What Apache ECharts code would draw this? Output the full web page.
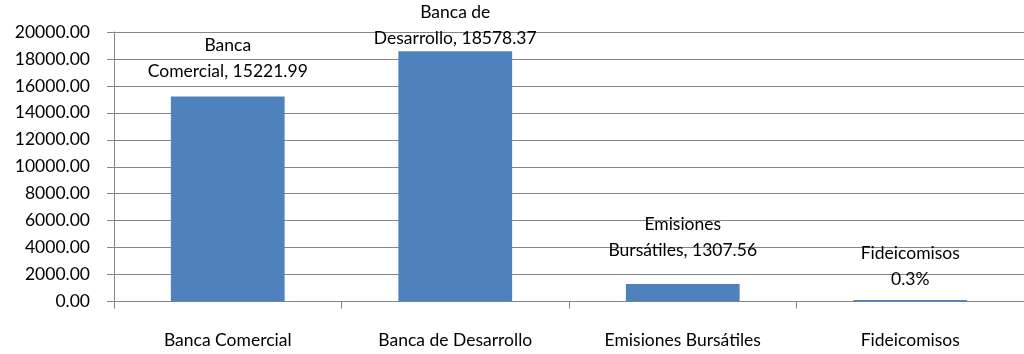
<!DOCTYPE html>
<html>
<head>
<meta charset="utf-8">
<script src="https://cdn.jsdelivr.net/npm/echarts@6/dist/echarts.min.js"></script>
<style>
  html, body { margin: 0; padding: 0; background: #fff; }
  #chart { width: 1024px; height: 354px; }
</style>
</head>
<body>
<div id="chart"></div>
<script>
// Financing sources by channel
const categories = ['Banca Comercial', 'Banca de Desarrollo', 'Emisiones Bursátiles', 'Fideicomisos'];
const amounts = [15221.99, 18578.37, 1307.56, 105.3];
const barLabels = ['Banca\nComercial, 15221.99', 'Banca de\nDesarrollo, 18578.37', 'Emisiones\nBursátiles, 1307.56', 'Fideicomisos\n0.3%'];
const labelGaps = [12, 0, 21, 8];
const yMin = 0, yMax = 20000, yStep = 2000;

const chart = echarts.init(document.getElementById('chart'), null, { renderer: 'canvas' });
const font = 'Lato, "Open Sans", sans-serif';

chart.setOption({
  animation: false,
  grid: { left: 114, top: 32, width: 916, bottom: 52.5, containLabel: false },
  xAxis: {
    type: 'category',
    data: categories,
    axisLine: { lineStyle: { color: '#868686', width: 1 } },
    axisTick: { show: true, length: 7, lineStyle: { color: '#868686' } },
    axisLabel: { color: '#000', fontFamily: font, fontSize: 17.5, margin: 30, interval: 0 },
    splitLine: { show: false }
  },
  yAxis: {
    type: 'value',
    min: yMin, max: yMax, interval: yStep,
    axisLine: { show: true, lineStyle: { color: '#868686', width: 1 } },
    axisTick: { show: true, length: 7, lineStyle: { color: '#868686' } },
    axisLabel: {
      color: '#000', fontFamily: font, fontSize: 17.5, margin: 24,
      formatter: v => v.toFixed(2)
    },
    splitLine: { show: true, lineStyle: { color: '#868686', width: 1 } }
  },
  series: [{
    type: 'bar',
    data: amounts.map((v, i) => ({ value: v, label: { distance: labelGaps[i] } })),
    barWidth: '50%',
    itemStyle: { color: '#4F81BD' },
    label: {
      show: true,
      position: 'top',
      color: '#000',
      fontFamily: font,
      fontSize: 17.5,
      lineHeight: 26,
      formatter: p => barLabels[p.dataIndex]
    }
  }]
});
</script>
</body>
</html>
